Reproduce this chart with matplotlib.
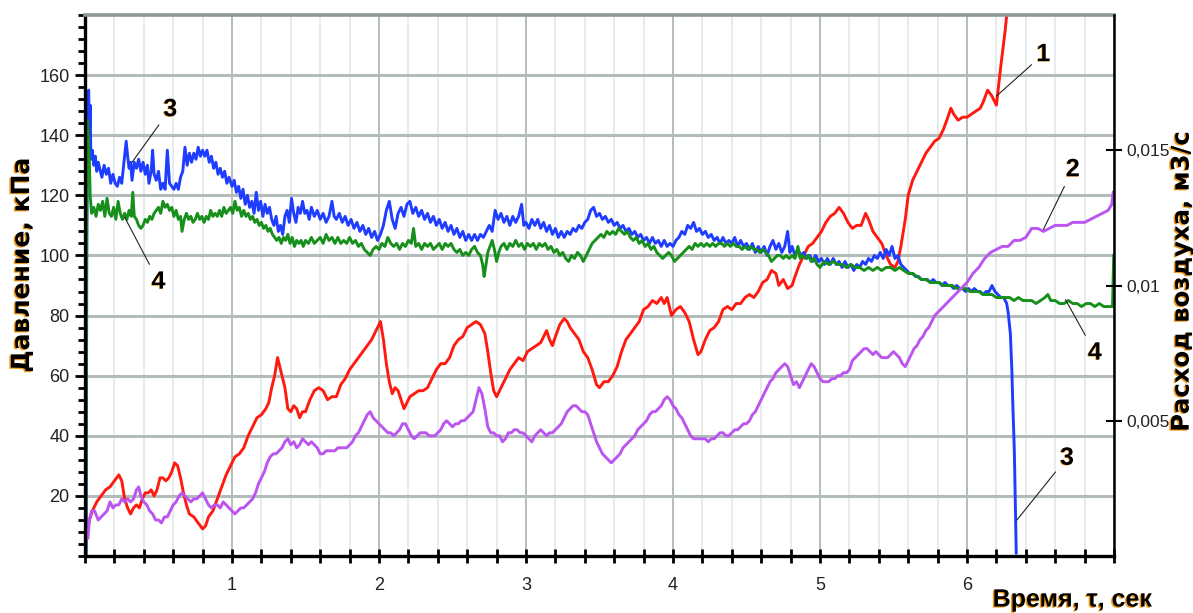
import numpy as np
import matplotlib
matplotlib.use("Agg")
import matplotlib.pyplot as plt
import matplotlib.patheffects as pe
from matplotlib.ticker import MultipleLocator, FixedLocator, FixedFormatter

# --- measured curves: (time, s ; pressure, kPa) ---
red_pts = [
    (0.020, 9), (0.030, 12), (0.050, 15), (0.080, 18), (0.110, 20), (0.140, 22), (0.170, 23),
    (0.200, 25), (0.230, 27), (0.250, 25), (0.270, 19), (0.290, 16), (0.310, 14), (0.330, 16),
    (0.350, 17), (0.370, 16), (0.390, 19), (0.410, 21), (0.430, 21), (0.450, 22), (0.470, 20),
    (0.490, 22), (0.510, 26), (0.530, 26), (0.550, 25), (0.570, 26), (0.590, 28), (0.610, 31),
    (0.630, 30), (0.650, 26), (0.670, 21), (0.690, 17), (0.710, 14), (0.740, 13), (0.770, 11),
    (0.800, 9), (0.820, 10), (0.840, 13), (0.870, 15), (0.900, 19), (0.930, 23), (0.960, 27),
    (0.990, 30), (1.020, 33), (1.050, 34), (1.080, 36), (1.110, 40), (1.140, 43), (1.170, 46),
    (1.200, 47), (1.230, 49), (1.250, 51), (1.270, 56), (1.290, 60), (1.310, 66), (1.330, 62),
    (1.360, 56), (1.380, 49), (1.400, 48), (1.420, 50), (1.440, 49), (1.460, 46), (1.480, 48),
    (1.500, 48), (1.530, 52), (1.560, 55), (1.590, 56), (1.620, 55), (1.650, 52), (1.680, 53),
    (1.710, 53), (1.740, 57), (1.770, 59), (1.800, 62), (1.830, 64), (1.860, 66), (1.890, 68),
    (1.920, 70), (1.950, 72), (1.980, 75), (2.010, 78), (2.030, 72), (2.050, 64), (2.070, 58),
    (2.090, 54), (2.110, 56), (2.130, 55), (2.150, 52), (2.170, 49), (2.190, 51), (2.210, 53),
    (2.240, 54), (2.270, 55), (2.300, 55), (2.330, 56), (2.360, 59), (2.390, 62), (2.420, 64),
    (2.450, 64), (2.480, 66), (2.510, 70), (2.540, 72), (2.570, 73), (2.600, 76), (2.630, 77),
    (2.660, 78), (2.690, 77), (2.720, 74), (2.740, 68), (2.760, 61), (2.780, 55), (2.800, 53),
    (2.830, 56), (2.860, 59), (2.890, 62), (2.920, 64), (2.950, 66), (2.980, 65), (3.010, 68),
    (3.040, 69), (3.070, 70), (3.100, 71), (3.120, 73), (3.140, 75), (3.160, 72), (3.180, 70),
    (3.200, 73), (3.230, 77), (3.260, 79), (3.280, 78), (3.300, 76), (3.330, 74), (3.360, 72),
    (3.390, 68), (3.420, 66), (3.450, 62), (3.480, 57), (3.500, 56), (3.530, 58), (3.560, 58),
    (3.590, 60), (3.620, 63), (3.650, 68), (3.680, 72), (3.710, 74), (3.740, 76), (3.770, 78),
    (3.800, 82), (3.830, 83), (3.860, 85), (3.890, 84), (3.920, 86), (3.940, 84), (3.960, 86),
    (3.990, 80), (4.020, 82), (4.050, 83), (4.080, 81), (4.110, 78), (4.140, 72), (4.170, 67),
    (4.190, 68), (4.220, 72), (4.250, 75), (4.280, 76), (4.310, 78), (4.340, 82), (4.370, 83),
    (4.400, 82), (4.430, 84), (4.460, 84), (4.490, 86), (4.520, 87), (4.550, 86), (4.580, 88),
    (4.610, 91), (4.640, 92), (4.670, 95), (4.700, 94), (4.720, 90), (4.750, 92), (4.780, 89),
    (4.810, 90), (4.830, 93), (4.860, 97), (4.890, 100), (4.920, 103), (4.950, 104), (4.980, 106),
    (5.010, 108), (5.040, 111), (5.070, 113), (5.100, 114), (5.130, 116), (5.160, 114), (5.190, 111),
    (5.220, 109), (5.250, 110), (5.280, 110), (5.310, 114), (5.330, 112), (5.360, 108), (5.390, 106),
    (5.420, 104), (5.450, 100), (5.480, 97), (5.510, 96), (5.530, 98), (5.550, 103), (5.580, 112),
    (5.600, 120), (5.630, 125), (5.660, 128), (5.690, 131), (5.720, 134), (5.750, 136), (5.780, 138),
    (5.810, 139), (5.840, 142), (5.870, 146), (5.890, 149), (5.910, 147), (5.940, 145), (5.970, 146),
    (6.000, 146), (6.030, 147), (6.060, 148), (6.090, 149), (6.110, 151), (6.140, 155), (6.170, 153),
    (6.200, 150), (6.230, 163), (6.260, 175), (6.290, 190),
]

purple_pts = [
    (0.020, 6), (0.030, 12), (0.045, 15), (0.065, 15), (0.090, 12), (0.110, 13), (0.130, 14),
    (0.150, 15), (0.170, 18), (0.190, 16), (0.210, 17), (0.230, 17), (0.250, 19), (0.270, 18),
    (0.290, 19), (0.310, 18), (0.330, 19), (0.350, 22), (0.365, 23), (0.380, 20), (0.400, 18),
    (0.420, 17), (0.440, 15), (0.460, 14), (0.480, 12), (0.500, 12), (0.520, 11), (0.540, 13),
    (0.560, 13), (0.580, 15), (0.600, 17), (0.620, 18), (0.640, 20), (0.660, 21), (0.680, 20),
    (0.700, 19), (0.720, 18), (0.740, 19), (0.760, 19), (0.780, 20), (0.800, 21), (0.820, 19),
    (0.840, 17), (0.860, 16), (0.880, 17), (0.900, 17), (0.920, 16), (0.940, 18), (0.960, 17),
    (0.980, 16), (1.000, 15), (1.020, 14), (1.040, 15), (1.060, 16), (1.080, 16), (1.100, 17),
    (1.120, 18), (1.140, 19), (1.160, 21), (1.180, 24), (1.200, 26), (1.220, 28), (1.240, 31),
    (1.260, 33), (1.280, 34), (1.300, 34), (1.320, 35), (1.340, 36), (1.360, 38), (1.380, 39),
    (1.400, 37), (1.420, 38), (1.440, 36), (1.460, 37), (1.480, 39), (1.500, 38), (1.520, 37),
    (1.540, 38), (1.560, 37), (1.580, 36), (1.600, 34), (1.620, 34), (1.640, 35), (1.660, 35),
    (1.680, 35), (1.700, 35), (1.720, 36), (1.740, 36), (1.760, 36), (1.780, 36), (1.800, 37),
    (1.820, 38), (1.840, 40), (1.860, 41), (1.880, 43), (1.900, 45), (1.920, 47), (1.940, 48),
    (1.960, 46), (1.980, 45), (2.000, 44), (2.020, 43), (2.040, 42), (2.060, 41), (2.080, 41),
    (2.100, 40), (2.120, 41), (2.140, 42), (2.160, 44), (2.180, 44), (2.200, 42), (2.220, 40),
    (2.240, 39), (2.260, 40), (2.280, 41), (2.300, 41), (2.320, 41), (2.340, 40), (2.360, 40),
    (2.380, 40), (2.400, 41), (2.420, 42), (2.440, 44), (2.460, 45), (2.480, 44), (2.500, 43),
    (2.520, 44), (2.540, 44), (2.560, 45), (2.580, 45), (2.600, 46), (2.620, 47), (2.640, 48),
    (2.660, 52), (2.680, 56), (2.700, 54), (2.720, 49), (2.740, 43), (2.760, 41), (2.780, 41),
    (2.800, 40), (2.820, 40), (2.840, 38), (2.860, 39), (2.880, 41), (2.900, 41), (2.920, 42),
    (2.940, 42), (2.960, 41), (2.980, 41), (3.000, 40), (3.020, 39), (3.040, 38), (3.060, 40),
    (3.080, 41), (3.100, 42), (3.120, 41), (3.140, 40), (3.160, 41), (3.180, 41), (3.200, 42),
    (3.220, 43), (3.240, 44), (3.260, 46), (3.280, 48), (3.300, 49), (3.320, 50), (3.340, 50),
    (3.360, 49), (3.380, 48), (3.400, 48), (3.420, 47), (3.440, 44), (3.460, 41), (3.480, 38),
    (3.500, 36), (3.520, 34), (3.540, 33), (3.560, 32), (3.580, 31), (3.600, 32), (3.620, 33),
    (3.640, 34), (3.660, 36), (3.680, 37), (3.700, 38), (3.720, 39), (3.740, 40), (3.760, 42),
    (3.780, 43), (3.800, 44), (3.820, 45), (3.840, 47), (3.860, 48), (3.880, 48), (3.900, 49),
    (3.920, 50), (3.940, 52), (3.960, 53), (3.980, 52), (4.000, 50), (4.020, 49), (4.040, 47),
    (4.060, 46), (4.080, 44), (4.100, 42), (4.120, 40), (4.140, 39), (4.160, 39), (4.180, 39),
    (4.200, 39), (4.220, 39), (4.240, 38), (4.260, 39), (4.280, 39), (4.300, 40), (4.320, 41),
    (4.340, 41), (4.360, 40), (4.380, 40), (4.400, 41), (4.420, 42), (4.440, 42), (4.460, 43),
    (4.480, 44), (4.500, 44), (4.520, 45), (4.540, 47), (4.560, 48), (4.580, 50), (4.600, 52),
    (4.620, 54), (4.640, 56), (4.660, 58), (4.680, 59), (4.700, 61), (4.720, 62), (4.740, 63),
    (4.760, 64), (4.780, 63), (4.800, 60), (4.820, 57), (4.840, 58), (4.860, 56), (4.880, 58),
    (4.900, 60), (4.920, 62), (4.940, 64), (4.960, 63), (4.980, 61), (5.000, 59), (5.020, 58),
    (5.040, 58), (5.060, 58), (5.080, 59), (5.100, 59), (5.120, 60), (5.140, 60), (5.160, 61),
    (5.180, 61), (5.200, 62), (5.220, 65), (5.240, 66), (5.260, 67), (5.280, 68), (5.300, 69),
    (5.320, 69), (5.340, 68), (5.360, 67), (5.380, 68), (5.400, 67), (5.420, 66), (5.440, 66),
    (5.460, 66), (5.480, 67), (5.500, 68), (5.520, 67), (5.540, 66), (5.560, 64), (5.580, 63),
    (5.600, 65), (5.620, 67), (5.640, 69), (5.660, 70), (5.680, 72), (5.700, 73), (5.720, 75),
    (5.740, 76), (5.760, 78), (5.780, 80), (5.800, 81), (5.820, 82), (5.840, 83), (5.860, 84),
    (5.880, 85), (5.920, 87), (5.960, 89), (6.000, 91), (6.040, 94), (6.080, 96), (6.120, 99),
    (6.160, 101), (6.200, 102), (6.240, 103), (6.280, 103), (6.320, 105), (6.360, 105), (6.400, 106),
    (6.440, 109), (6.480, 109), (6.520, 108), (6.560, 109), (6.600, 110), (6.640, 110), (6.680, 110),
    (6.720, 111), (6.760, 111), (6.800, 111), (6.840, 112), (6.880, 113), (6.920, 114), (6.960, 115),
    (6.985, 117), (6.995, 121),
]

blue_pts = [
    (0.000, 0), (0.008, 0), (0.012, 100), (0.018, 150), (0.025, 155), (0.030, 140), (0.035, 150),
    (0.040, 132), (0.050, 135), (0.060, 130), (0.070, 133), (0.080, 128), (0.090, 131), (0.100, 129),
    (0.115, 126), (0.130, 130), (0.145, 127), (0.160, 129), (0.175, 124), (0.190, 127), (0.205, 124),
    (0.220, 123), (0.235, 126), (0.250, 124), (0.265, 131), (0.280, 138), (0.290, 133), (0.300, 129),
    (0.310, 131), (0.320, 125), (0.335, 131), (0.350, 129), (0.365, 132), (0.380, 128), (0.395, 131),
    (0.410, 127), (0.425, 130), (0.435, 124), (0.450, 128), (0.460, 135), (0.470, 127), (0.485, 125),
    (0.500, 128), (0.515, 122), (0.530, 124), (0.545, 122), (0.560, 135), (0.575, 124), (0.590, 123),
    (0.605, 122), (0.620, 124), (0.635, 122), (0.650, 126), (0.665, 128), (0.680, 136), (0.695, 130),
    (0.710, 134), (0.725, 131), (0.740, 134), (0.755, 132), (0.770, 136), (0.785, 133), (0.800, 135),
    (0.815, 133), (0.830, 135), (0.845, 131), (0.860, 133), (0.875, 129), (0.890, 131), (0.905, 127),
    (0.920, 129), (0.935, 126), (0.950, 128), (0.965, 124), (0.980, 126), (1.000, 123), (1.015, 125),
    (1.030, 121), (1.045, 123), (1.060, 119), (1.075, 122), (1.090, 117), (1.105, 120), (1.120, 116),
    (1.135, 118), (1.150, 114), (1.165, 121), (1.180, 115), (1.195, 118), (1.210, 113), (1.225, 117),
    (1.240, 114), (1.255, 116), (1.270, 112), (1.285, 110), (1.300, 113), (1.315, 108), (1.330, 110),
    (1.345, 107), (1.360, 113), (1.375, 115), (1.390, 111), (1.405, 119), (1.420, 114), (1.435, 111),
    (1.450, 116), (1.465, 114), (1.480, 118), (1.495, 114), (1.510, 115), (1.525, 112), (1.540, 116),
    (1.560, 113), (1.580, 115), (1.600, 112), (1.620, 114), (1.640, 111), (1.660, 113), (1.680, 118),
    (1.695, 113), (1.710, 112), (1.730, 114), (1.750, 111), (1.770, 113), (1.790, 110), (1.810, 112),
    (1.830, 109), (1.850, 111), (1.870, 108), (1.890, 110), (1.910, 107), (1.930, 109), (1.950, 106),
    (1.970, 108), (1.990, 105), (2.010, 107), (2.030, 110), (2.050, 115), (2.070, 118), (2.090, 112),
    (2.110, 109), (2.130, 114), (2.150, 116), (2.170, 113), (2.190, 117), (2.210, 118), (2.230, 114),
    (2.250, 116), (2.270, 113), (2.290, 115), (2.310, 112), (2.330, 114), (2.350, 111), (2.370, 113),
    (2.390, 110), (2.410, 112), (2.430, 109), (2.450, 111), (2.470, 108), (2.490, 110), (2.510, 107),
    (2.530, 109), (2.550, 106), (2.570, 108), (2.590, 105), (2.610, 107), (2.630, 105), (2.650, 107),
    (2.670, 105), (2.690, 107), (2.710, 106), (2.730, 108), (2.750, 110), (2.770, 108), (2.790, 115),
    (2.810, 112), (2.830, 114), (2.850, 111), (2.870, 113), (2.890, 110), (2.910, 113), (2.930, 111),
    (2.950, 113), (2.970, 117), (2.985, 110), (3.000, 111), (3.020, 109), (3.040, 112), (3.060, 110),
    (3.080, 112), (3.100, 109), (3.120, 111), (3.140, 108), (3.160, 110), (3.180, 107), (3.200, 109),
    (3.220, 106), (3.240, 108), (3.260, 106), (3.280, 108), (3.300, 107), (3.320, 109), (3.340, 108),
    (3.360, 110), (3.380, 109), (3.400, 111), (3.420, 112), (3.440, 115), (3.460, 116), (3.480, 113),
    (3.500, 114), (3.520, 112), (3.540, 113), (3.560, 111), (3.580, 112), (3.600, 110), (3.620, 111),
    (3.640, 109), (3.660, 110), (3.680, 108), (3.700, 109), (3.720, 107), (3.740, 108), (3.760, 106),
    (3.780, 107), (3.800, 105), (3.820, 106), (3.840, 104), (3.860, 106), (3.880, 104), (3.900, 105),
    (3.920, 103), (3.940, 105), (3.960, 103), (3.980, 104), (4.000, 103), (4.020, 105), (4.040, 106),
    (4.060, 108), (4.080, 107), (4.100, 110), (4.120, 109), (4.140, 111), (4.160, 108), (4.180, 109),
    (4.200, 107), (4.220, 108), (4.240, 106), (4.260, 107), (4.280, 105), (4.300, 106), (4.320, 104),
    (4.340, 106), (4.360, 104), (4.380, 105), (4.400, 104), (4.420, 106), (4.440, 103), (4.460, 105),
    (4.480, 103), (4.500, 104), (4.520, 102), (4.540, 104), (4.560, 101), (4.580, 103), (4.600, 101),
    (4.620, 103), (4.640, 100), (4.660, 103), (4.680, 105), (4.700, 102), (4.720, 104), (4.740, 101),
    (4.760, 103), (4.780, 108), (4.795, 101), (4.810, 103), (4.830, 100), (4.850, 102), (4.870, 100),
    (4.890, 101), (4.910, 99), (4.930, 100), (4.950, 98), (4.970, 100), (4.990, 98), (5.010, 99),
    (5.030, 97), (5.050, 99), (5.070, 97), (5.090, 99), (5.110, 97), (5.130, 98), (5.150, 96),
    (5.170, 98), (5.190, 96), (5.210, 97), (5.230, 95), (5.250, 97), (5.270, 96), (5.290, 98),
    (5.310, 97), (5.330, 99), (5.350, 98), (5.370, 100), (5.390, 99), (5.410, 101), (5.430, 99),
    (5.450, 102), (5.470, 100), (5.490, 103), (5.510, 99), (5.530, 100), (5.550, 97), (5.570, 96),
    (5.590, 95), (5.610, 94), (5.630, 94), (5.650, 93), (5.670, 93), (5.690, 92), (5.710, 92),
    (5.730, 92), (5.750, 91), (5.770, 92), (5.790, 91), (5.810, 91), (5.830, 90), (5.850, 91),
    (5.870, 90), (5.890, 90), (5.910, 89), (5.930, 90), (5.950, 89), (5.970, 89), (5.990, 88),
    (6.010, 89), (6.030, 88), (6.050, 89), (6.070, 88), (6.090, 88), (6.110, 87), (6.130, 88),
    (6.150, 88), (6.170, 90), (6.190, 88), (6.210, 87), (6.230, 86), (6.250, 86), (6.270, 84),
    (6.280, 81), (6.295, 74), (6.305, 62), (6.312, 50), (6.322, 35), (6.330, 15), (6.335, 1),
]

green_pts = [
    (0.000, 0), (0.006, 0), (0.010, 90), (0.014, 145), (0.020, 142), (0.025, 135), (0.030, 131),
    (0.035, 120), (0.045, 114), (0.060, 116), (0.075, 113), (0.090, 117), (0.105, 115), (0.120, 118),
    (0.135, 113), (0.150, 119), (0.165, 114), (0.180, 113), (0.195, 116), (0.210, 112), (0.225, 118),
    (0.240, 114), (0.255, 112), (0.270, 114), (0.285, 112), (0.300, 115), (0.315, 113), (0.325, 121),
    (0.335, 113), (0.350, 112), (0.365, 110), (0.380, 109), (0.395, 110), (0.410, 112), (0.425, 111),
    (0.440, 113), (0.455, 112), (0.470, 114), (0.485, 115), (0.500, 116), (0.515, 114), (0.530, 118),
    (0.545, 116), (0.560, 117), (0.575, 115), (0.590, 116), (0.605, 113), (0.620, 115), (0.635, 112),
    (0.650, 113), (0.660, 108), (0.675, 112), (0.690, 114), (0.705, 112), (0.720, 113), (0.735, 111),
    (0.750, 112), (0.765, 114), (0.780, 112), (0.795, 113), (0.810, 111), (0.825, 113), (0.840, 112),
    (0.855, 115), (0.870, 113), (0.885, 114), (0.900, 113), (0.915, 115), (0.930, 113), (0.945, 116),
    (0.960, 114), (0.975, 115), (0.990, 116), (1.005, 114), (1.020, 118), (1.035, 115), (1.050, 116),
    (1.065, 113), (1.080, 115), (1.095, 113), (1.110, 114), (1.125, 112), (1.140, 113), (1.155, 111),
    (1.170, 112), (1.185, 110), (1.200, 111), (1.215, 109), (1.230, 110), (1.245, 108), (1.260, 109),
    (1.275, 107), (1.290, 106), (1.305, 105), (1.320, 106), (1.335, 104), (1.350, 106), (1.365, 105),
    (1.380, 107), (1.395, 104), (1.410, 106), (1.425, 103), (1.440, 105), (1.455, 104), (1.470, 105),
    (1.485, 103), (1.500, 105), (1.520, 104), (1.540, 106), (1.560, 104), (1.580, 105), (1.600, 106),
    (1.620, 104), (1.640, 107), (1.660, 105), (1.680, 106), (1.700, 104), (1.720, 106), (1.740, 104),
    (1.760, 105), (1.780, 104), (1.800, 106), (1.820, 104), (1.840, 105), (1.860, 103), (1.880, 104),
    (1.900, 102), (1.920, 101), (1.940, 100), (1.960, 102), (1.980, 103), (2.000, 102), (2.020, 104),
    (2.040, 103), (2.060, 106), (2.080, 104), (2.100, 103), (2.120, 104), (2.140, 102), (2.160, 104),
    (2.180, 103), (2.200, 105), (2.220, 104), (2.235, 109), (2.250, 103), (2.270, 104), (2.290, 102),
    (2.310, 104), (2.330, 103), (2.350, 104), (2.370, 102), (2.390, 103), (2.410, 104), (2.430, 102),
    (2.450, 104), (2.470, 103), (2.490, 104), (2.510, 102), (2.530, 101), (2.550, 102), (2.570, 100),
    (2.590, 101), (2.610, 100), (2.630, 102), (2.650, 103), (2.670, 101), (2.690, 100), (2.705, 97),
    (2.715, 93), (2.725, 96), (2.740, 101), (2.755, 103), (2.770, 105), (2.785, 102), (2.800, 98),
    (2.815, 101), (2.830, 103), (2.850, 104), (2.870, 102), (2.890, 104), (2.910, 103), (2.930, 105),
    (2.950, 103), (2.970, 104), (2.990, 102), (3.010, 104), (3.030, 103), (3.050, 104), (3.070, 102),
    (3.090, 104), (3.110, 103), (3.130, 104), (3.150, 102), (3.170, 103), (3.190, 101), (3.210, 102),
    (3.230, 100), (3.250, 101), (3.270, 99), (3.290, 98), (3.310, 100), (3.330, 99), (3.350, 101),
    (3.370, 100), (3.390, 98), (3.410, 100), (3.430, 102), (3.450, 104), (3.470, 105), (3.490, 106),
    (3.510, 107), (3.530, 106), (3.550, 108), (3.570, 107), (3.590, 108), (3.610, 107), (3.630, 109),
    (3.650, 108), (3.670, 107), (3.690, 108), (3.710, 106), (3.730, 105), (3.750, 106), (3.770, 104),
    (3.790, 105), (3.810, 103), (3.830, 104), (3.850, 102), (3.870, 103), (3.890, 101), (3.910, 100),
    (3.930, 99), (3.950, 100), (3.970, 101), (3.990, 100), (4.010, 98), (4.030, 99), (4.050, 100),
    (4.070, 101), (4.090, 102), (4.110, 103), (4.130, 102), (4.150, 104), (4.170, 103), (4.190, 104),
    (4.210, 103), (4.230, 104), (4.250, 103), (4.270, 104), (4.290, 103), (4.310, 104), (4.330, 104),
    (4.350, 103), (4.370, 104), (4.390, 103), (4.410, 104), (4.430, 103), (4.450, 103), (4.470, 102),
    (4.490, 103), (4.510, 102), (4.530, 103), (4.550, 102), (4.570, 102), (4.590, 101), (4.610, 102),
    (4.630, 101), (4.650, 100), (4.670, 98), (4.690, 99), (4.710, 100), (4.730, 100), (4.750, 99),
    (4.770, 100), (4.790, 99), (4.810, 100), (4.830, 99), (4.850, 103), (4.865, 99), (4.880, 100),
    (4.900, 99), (4.920, 100), (4.940, 98), (4.960, 99), (4.980, 97), (5.000, 96), (5.030, 98),
    (5.060, 97), (5.090, 98), (5.120, 97), (5.150, 97), (5.180, 96), (5.210, 97), (5.240, 96),
    (5.270, 96), (5.300, 95), (5.330, 96), (5.360, 95), (5.390, 96), (5.420, 95), (5.450, 96),
    (5.480, 96), (5.510, 95), (5.540, 96), (5.570, 95), (5.600, 94), (5.630, 94), (5.660, 93),
    (5.690, 92), (5.720, 92), (5.750, 91), (5.780, 91), (5.810, 91), (5.840, 90), (5.870, 90),
    (5.900, 90), (5.930, 89), (5.960, 89), (5.990, 89), (6.020, 88), (6.050, 88), (6.080, 88),
    (6.110, 87), (6.140, 87), (6.170, 87), (6.200, 86), (6.230, 86), (6.260, 86), (6.290, 86),
    (6.320, 85), (6.350, 86), (6.380, 85), (6.410, 85), (6.440, 85), (6.470, 84), (6.500, 85),
    (6.530, 86), (6.550, 87), (6.570, 85), (6.600, 85), (6.630, 84), (6.660, 84), (6.690, 85),
    (6.720, 84), (6.750, 84), (6.780, 83), (6.810, 84), (6.840, 84), (6.870, 83), (6.900, 84),
    (6.930, 83), (6.960, 83), (6.990, 83), (6.998, 100),
]

x_labels = ["", "1", "2", "3", "4", "5", "6", ""]
flow_ticks = [0.005, 0.01, 0.015]
flow_labels = ["0,005", "0,01", "0,015"]

# curve number, text position (t, kPa), leader end (t, kPa)
callouts = [
    ("1", (6.52, 167.0), (6.20, 153.0)),
    ("2", (6.72, 128.7), (6.52, 108.7)),
    ("3", (0.58, 148.7), (0.32, 131.0)),
    ("4", (0.50, 91.3), (0.27, 112.7)),
    ("4", (6.87, 67.7), (6.67, 85.3)),
    ("3", (6.68, 32.7), (6.34, 12.0)),
]

shadow = [pe.withSimplePatchShadow(offset=(-1.1, -0.8), shadow_rgbFace="#f29a16", alpha=1.0)]
thin_shadow = [pe.withSimplePatchShadow(offset=(-0.6, -0.4), shadow_rgbFace="#f29a16", alpha=0.9)]

fig = plt.figure(figsize=(11.93, 6.13), dpi=100)
ax = fig.add_axes([85 / 1193, 57 / 613, 1029 / 1193, 541 / 613])

for pts, col in [(red_pts, "#ff1a10"), (blue_pts, "#1f3dff"),
                 (green_pts, "#16901a"), (purple_pts, "#bb55f0")]:
    arr = np.array(pts, dtype=float)
    ax.plot(arr[:, 0], arr[:, 1], color=col, lw=2.1, solid_joinstyle="round")

ax.set_xlim(0, 7)
ax.set_ylim(0, 180)

ax.set_xticks(range(8))
ax.set_xticklabels(x_labels)
ax.xaxis.set_minor_locator(MultipleLocator(0.2))
ax.set_yticks(range(20, 180, 20))
ax.yaxis.set_minor_locator(MultipleLocator(4))

ax.grid(axis="y", which="major", color="#b3bbbb", lw=2.2)
ax.grid(axis="x", which="major", color="#a9b1b1", lw=1.2)
ax.grid(axis="x", which="minor", color="#e6ecec", lw=1.4)
ax.set_axisbelow(True)

ax.tick_params(axis="x", which="both", direction="inout", length=10, width=2,
               color="black", pad=10, labelsize=13, labelcolor="#222222")
ax.tick_params(axis="y", which="major", direction="out", length=7, width=2,
               pad=4, labelsize=13, labelcolor="#222222")
ax.tick_params(axis="y", which="minor", direction="out", length=5, width=2)
for lab in ax.get_xticklabels() + ax.get_yticklabels():
    lab.set_family("Liberation Sans")

ax.spines["left"].set_linewidth(2.4)
ax.spines["bottom"].set_linewidth(2.4)
ax.spines["top"].set_color("#8c9898")
ax.spines["top"].set_linewidth(2.6)
ax.spines["right"].set_visible(False)

# flow-rate axis on the right
ax2 = ax.twinx()
ax2.set_ylim(0, 0.02)
ax2.yaxis.set_major_locator(FixedLocator(flow_ticks))
ax2.yaxis.set_major_formatter(FixedFormatter(flow_labels))
ax2.tick_params(axis="y", direction="inout", length=12, width=1.5, pad=3,
                labelsize=12.5, labelcolor="#222222")
for lab in ax2.get_yticklabels():
    lab.set_family("Liberation Sans")
for side in ["left", "top", "bottom"]:
    ax2.spines[side].set_visible(False)
ax2.spines["right"].set_linewidth(1.8)

for txt, xytext, xy in callouts:
    ax.annotate(txt, xy=xy, xytext=xytext, ha="center", va="center",
                fontsize=18, fontweight="bold", family="Liberation Sans", color="black",
                path_effects=thin_shadow,
                arrowprops=dict(arrowstyle="-", color="#222222", lw=0.8,
                                shrinkA=2, shrinkB=0))

fig.text(0.0185, 0.568, "Давление, кПа", rotation=90, ha="center", va="center",
         fontsize=18, fontweight="bold", family="DejaVu Sans", path_effects=shadow)
fig.text(0.9905, 0.54, "Расход воздуха, м3/с", rotation=90, ha="center", va="center",
         fontsize=17.5, fontweight="bold", family="DejaVu Sans", path_effects=shadow)
fig.text(0.899, 0.022, "Время, τ, сек", ha="center", va="center",
         fontsize=18, fontweight="bold", family="Liberation Sans", path_effects=shadow)

fig.savefig("out.png", dpi=100)
